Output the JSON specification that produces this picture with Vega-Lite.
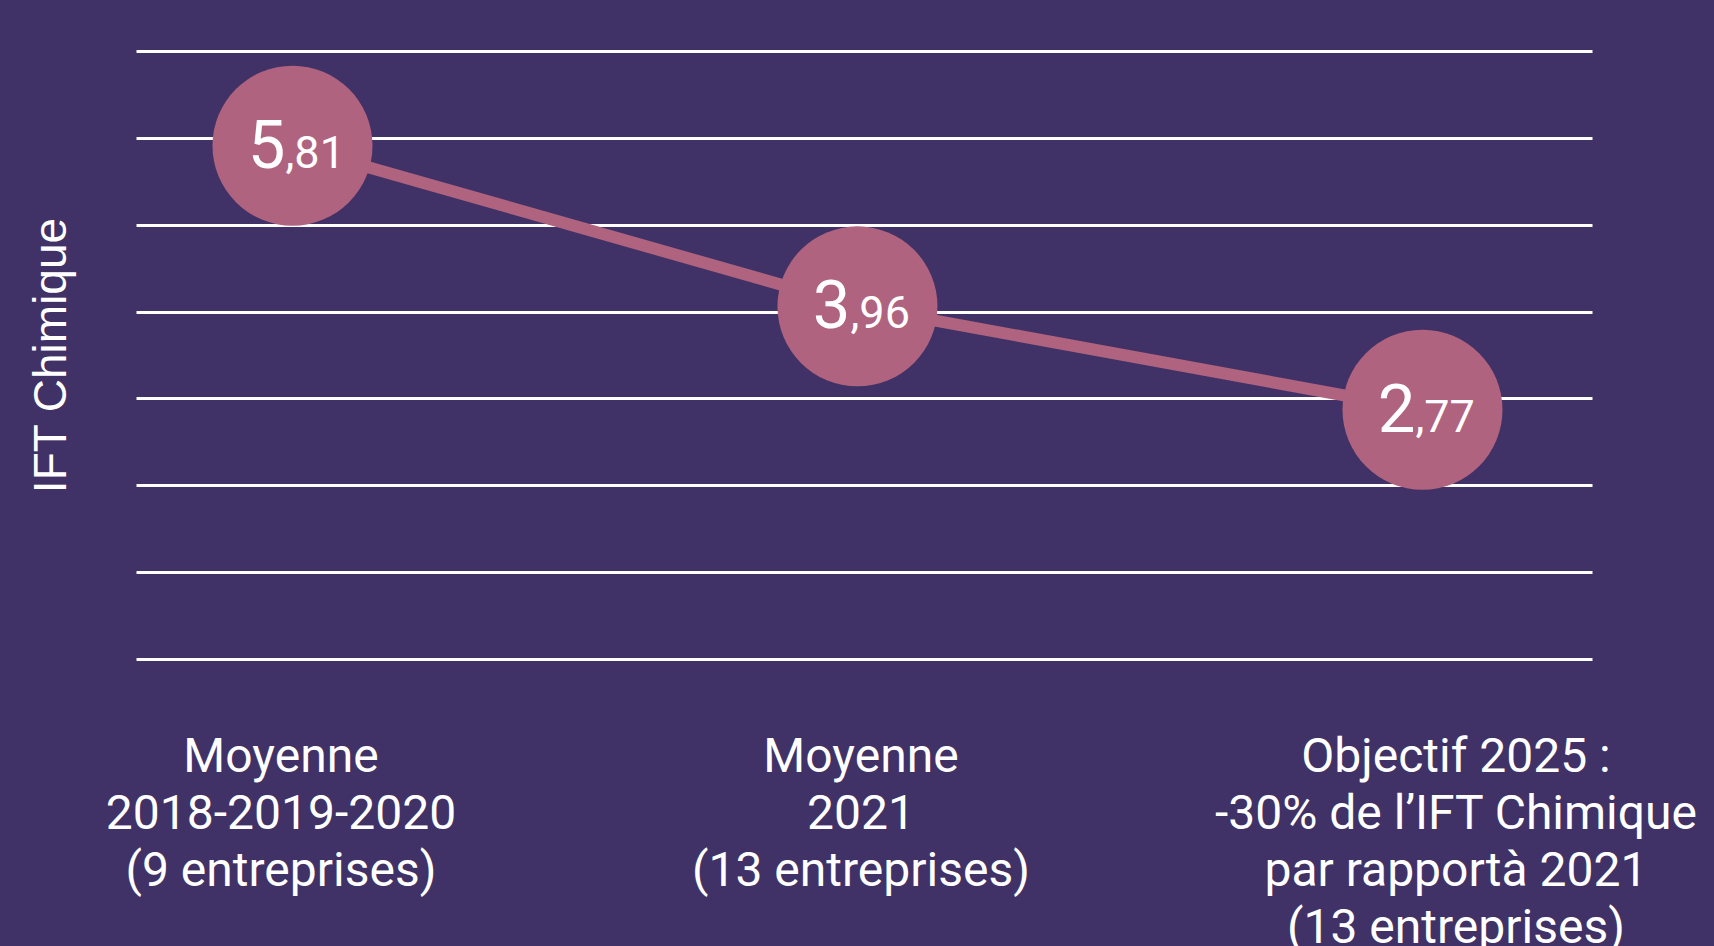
{
  "$schema": "https://vega.github.io/schema/vega-lite/v6.json",
  "width": 1456,
  "height": 608,
  "autosize": {"type": "none"},
  "padding": {"left": 136, "top": 51, "right": 122, "bottom": 287},
  "background": "#403266",
  "config": {"view": {"stroke": null}},
  "data": {
    "values": [
      {"periode": "Moyenne\n2018-2019-2020\n(9 entreprises)", "ift": 5.81, "entier": "5", "decimales": ",81"},
      {"periode": "Moyenne\n2021\n(13 entreprises)", "ift": 3.96, "entier": "3", "decimales": ",96"},
      {"periode": "Objectif 2025 :\n-30% de l’IFT Chimique\npar rapportà 2021\n(13 entreprises)", "ift": 2.77, "entier": "2", "decimales": ",77"}
    ]
  },
  "encoding": {
    "x": {
      "field": "periode",
      "type": "nominal",
      "sort": null,
      "scale": {"type": "point", "padding": 0.2885, "align": 0.48},
      "axis": {
        "title": null,
        "domain": false,
        "ticks": false,
        "grid": false,
        "labelAngle": 0,
        "labelExpr": "split(datum.value, '\\n')",
        "labelFont": "Roboto",
        "labelFontSize": 48,
        "labelColor": "#ffffff",
        "labelLineHeight": 57,
        "labelPadding": 74,
        "labelBaseline": "top",
        "labelAlign": "center",
        "labelOverlap": false,
        "labelBound": false,
        "labelFlush": false,
        "labelLimit": 0,
        "labelOffset": {
          "condition": [
            {"test": "indexof(datum.value, 'Objectif') >= 0", "value": 33},
            {"test": "indexof(datum.value, '2018') >= 0", "value": -12}
          ],
          "value": 3
        }
      }
    },
    "y": {
      "field": "ift",
      "type": "quantitative",
      "scale": {"domain": [-0.1, 6.9], "nice": false, "zero": false},
      "axis": {
        "title": "IFT Chimique",
        "titleFont": "Liberation Sans",
        "titleFontSize": 46,
        "titleFontWeight": "normal",
        "titleColor": "#ffffff",
        "titlePadding": 61,
        "domain": false,
        "ticks": false,
        "labels": false,
        "grid": true,
        "gridColor": "#ffffff",
        "gridWidth": 3,
        "gridOpacity": 1,
        "values": [-0.1, 0.9, 1.9, 2.9, 3.9, 4.9, 5.9, 6.9]
      }
    }
  },
  "layer": [
    {"mark": {"type": "line", "color": "#b0637f", "strokeWidth": 12}},
    {"mark": {"type": "circle", "color": "#b0637f", "opacity": 1, "size": 25600}},
    {
      "mark": {"type": "text", "align": "right", "baseline": "alphabetic", "dx": -7, "dy": 22, "font": "Roboto", "fontSize": 67, "color": "#ffffff"},
      "encoding": {"text": {"field": "entier"}}
    },
    {
      "mark": {"type": "text", "align": "left", "baseline": "alphabetic", "dx": -7, "dy": 22, "font": "Roboto", "fontSize": 45, "color": "#ffffff"},
      "encoding": {"text": {"field": "decimales"}}
    }
  ]
}
